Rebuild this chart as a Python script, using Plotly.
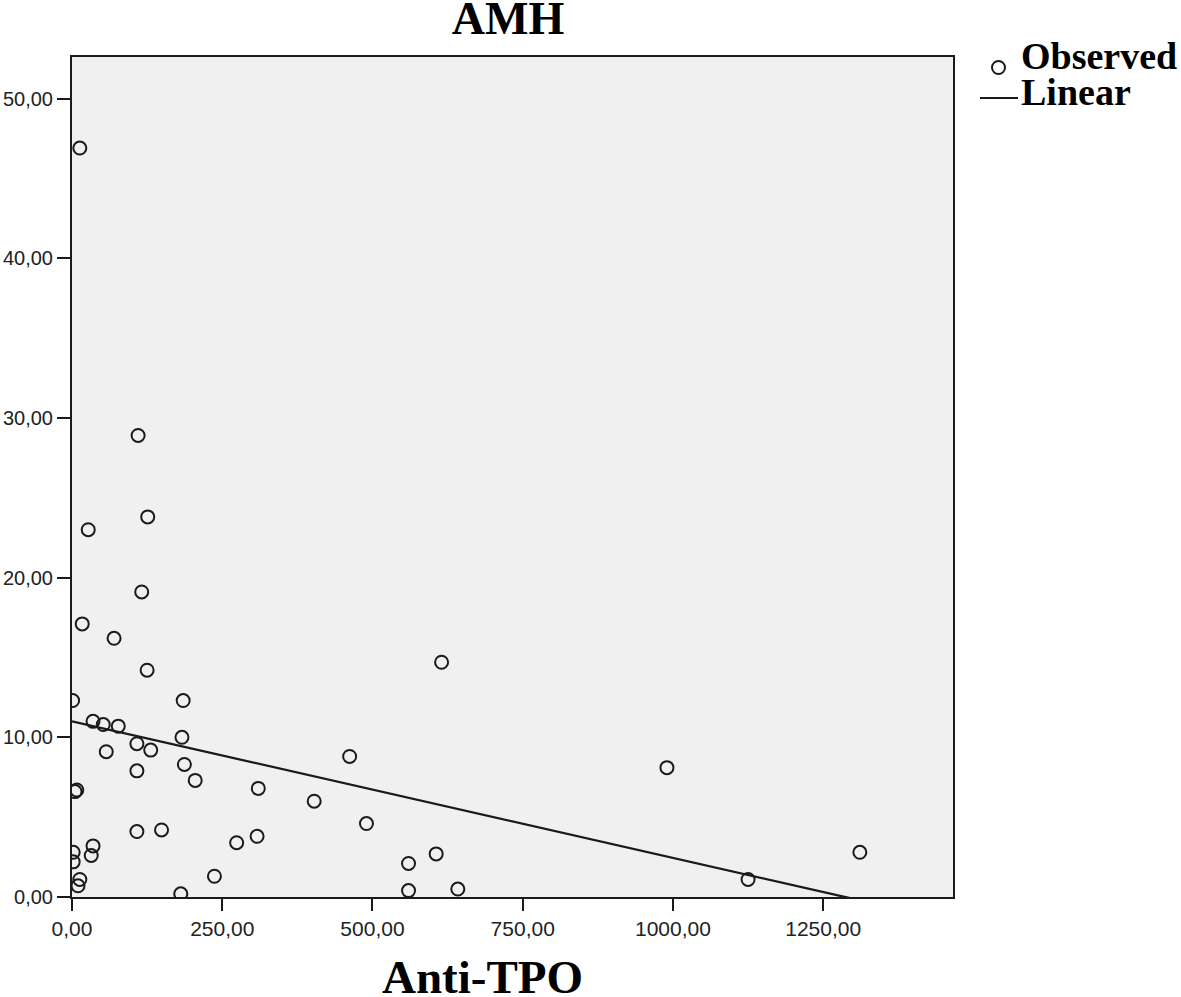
import plotly.graph_objects as go

# ---- data ----
anti_tpo = [13, 110, 126, 27, 116, 17, 70, 125, 615, 1, 185, 35, 52, 77, 183, 108, 57, 131,
            462, 990, 187, 108, 205, 5, 8, 310, 403, 490, 108, 149, 274, 308, 35, 32, 2, 2,
            606, 560, 1311, 1125, 237, 13, 10, 181, 560, 642]
amh = [46.9, 28.9, 23.8, 23.0, 19.1, 17.1, 16.2, 14.2, 14.7, 12.3, 12.3, 11.0, 10.8, 10.7,
       10.0, 9.6, 9.1, 9.2, 8.8, 8.1, 8.3, 7.9, 7.3, 6.6, 6.7, 6.8, 6.0, 4.6, 4.1, 4.2,
       3.4, 3.8, 3.2, 2.6, 2.8, 2.2, 2.7, 2.1, 2.8, 1.1, 1.3, 1.1, 0.7, 0.2, 0.4, 0.5]

fit_intercept = 11.0
fit_slope = -0.00855

x_tick_vals = [0, 250, 500, 750, 1000, 1250]
x_tick_text = ["0,00", "250,00", "500,00", "750,00", "1000,00", "1250,00"]
y_tick_vals = [0, 10, 20, 30, 40, 50]
y_tick_text = ["0,00", "10,00", "20,00", "30,00", "40,00", "50,00"]

title_text = "AMH"
x_title = "Anti-TPO"
legend_labels = ["Observed", "Linear"]

# ---- layout geometry (page pixels; body margin removed below) ----
W, H = 1181, 997
L, R, T, B = 72, 953, 57, 897  # plot area edges


def px_x(p):
    return (p - L) / (R - L)


def px_y(p):
    return (B - p) / (B - T)


fit_x = [0, max(anti_tpo)]
fit_y = [fit_intercept + fit_slope * v for v in fit_x]

ink = "#1a1a1a"
serif = "Liberation Serif"
sans = "Liberation Sans"

fig = go.Figure()
fig.add_trace(go.Scatter(
    x=anti_tpo, y=amh, mode="markers", name=legend_labels[0],
    marker=dict(symbol="circle-open", size=13, color=ink, line=dict(width=2, color=ink)),
    showlegend=False,
))
fig.add_trace(go.Scatter(
    x=fit_x, y=fit_y, mode="lines", name=legend_labels[1],
    line=dict(color=ink, width=2.3), showlegend=False,
))

fig.update_layout(
    width=W, height=H,
    margin=dict(l=L, r=W - R, t=T, b=H - B, autoexpand=False),
    paper_bgcolor="white",
    plot_bgcolor="#f0f0f0",
    title=dict(text=title_text, x=px_x(508), xref="paper", xanchor="center",
               y=1 - 18 / H, yref="container", yanchor="middle",
               font=dict(family=serif, size=46, color="black", weight="bold")),
    xaxis=dict(range=[0, 1466], tickvals=x_tick_vals, ticktext=x_tick_text,
               showgrid=False, zeroline=False, showline=True, linecolor=ink, linewidth=2,
               mirror=True, ticks="outside", ticklen=12, tickwidth=2, tickcolor=ink,
               tickfont=dict(family=sans, size=21, color="#222")),
    yaxis=dict(range=[0, 52.6], tickvals=y_tick_vals, ticktext=y_tick_text,
               showgrid=False, zeroline=False, showline=True, linecolor=ink, linewidth=2,
               mirror=True, ticks="outside", ticklen=13, tickwidth=2, tickcolor=ink,
               tickfont=dict(family=sans, size=20, color="#222")),
)

# x-axis title, placed where the reference puts it
fig.add_annotation(text=x_title, xref="paper", yref="paper",
                   x=px_x(482), y=px_y(977), xanchor="center", yanchor="middle",
                   showarrow=False,
                   font=dict(family=serif, size=47, color="black", weight="bold"))

# legend (text + symbols, matching the tight spacing of the reference)
fig.add_annotation(text=legend_labels[0], xref="paper", yref="paper",
                   x=px_x(1019), y=px_y(56), xanchor="left", yanchor="middle",
                   showarrow=False, font=dict(family=serif, size=38, color="black", weight="bold"))
fig.add_annotation(text=legend_labels[1], xref="paper", yref="paper",
                   x=px_x(1019), y=px_y(92), xanchor="left", yanchor="middle",
                   showarrow=False, font=dict(family=serif, size=38, color="black", weight="bold"))
fig.add_shape(type="circle", xref="paper", yref="paper",
              x0=px_x(992), x1=px_x(1005), y0=px_y(74), y1=px_y(61),
              line=dict(color=ink, width=2))
fig.add_shape(type="line", xref="paper", yref="paper",
              x0=px_x(980), x1=px_x(1018), y0=px_y(98), y1=px_y(98),
              line=dict(color=ink, width=2))

fig.write_html("out.html",
               config={"displayModeBar": False},
               post_script="document.body.style.margin='0';document.body.style.overflow='hidden';")
